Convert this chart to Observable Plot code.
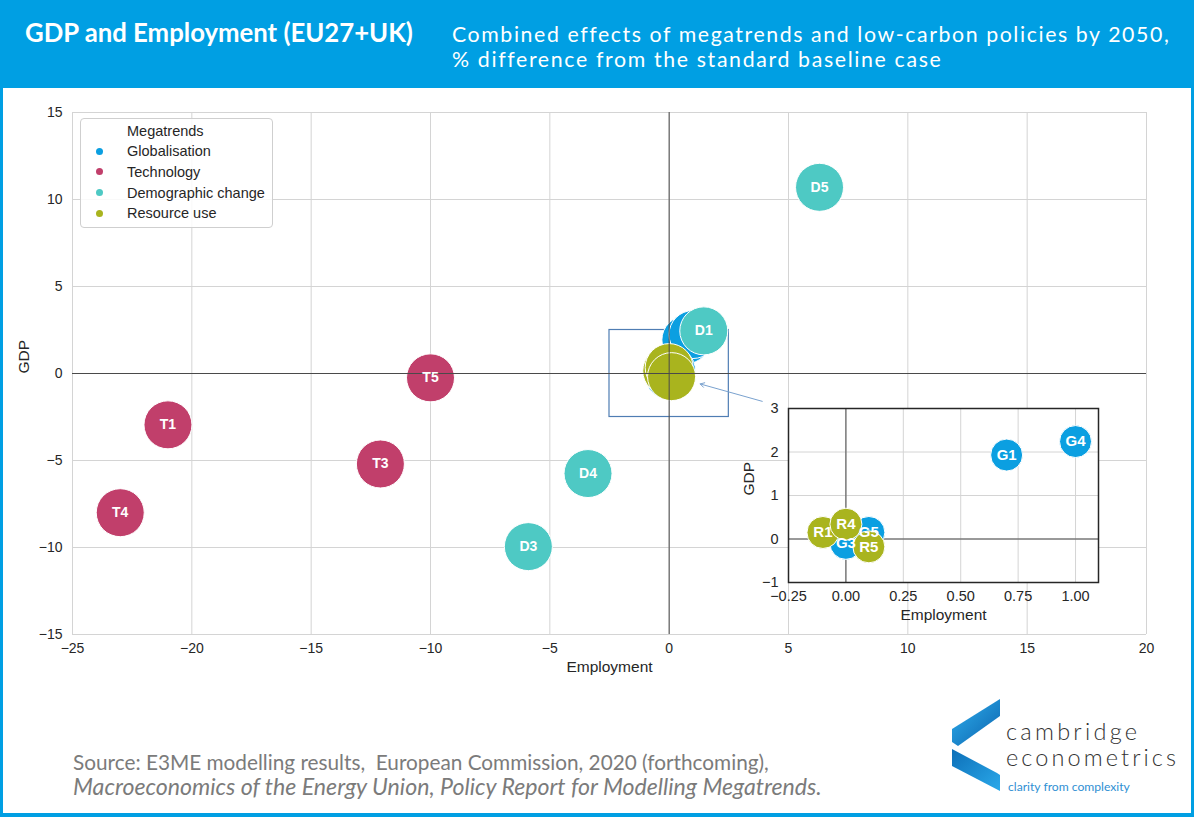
<!DOCTYPE html>
<html>
<head>
<meta charset="utf-8">
<script src="https://cdn.jsdelivr.net/npm/d3@7"></script>
<script src="https://cdn.jsdelivr.net/npm/@observablehq/plot@0.6"></script>
<style>
  html, body { margin: 0; padding: 0; background: white; }
  #root { position: relative; width: 1194px; height: 817px; overflow: hidden; background: white; }
  #deco { position: absolute; left: 0; top: 0; }
  #deco text { white-space: pre; }
  #main { position: absolute; left: 0; top: 90px; }
  #inset { position: absolute; left: 720px; top: 390px; }
  #legend { position: absolute; left: 80px; top: 118px; width: 191px; height: 108px;
    border: 1px solid #cfcfcf; border-radius: 4px; background: rgba(255,255,255,0.85);
    font-family: "Liberation Sans", Arial, sans-serif; font-size: 14.5px; color: #262626; }
  #legend .row { position: absolute; left: 0; height: 20px; line-height: 20px; white-space: nowrap; }
  #legend .dot { position: absolute; left: 15px; top: 6.5px; width: 7px; height: 7px; border-radius: 50%; }
  #legend .lab { position: absolute; left: 46px; }
  #border { position: absolute; left: 0; top: 0; width: 1194px; height: 817px; box-sizing: border-box;
    border-left: 3px solid #009fe3; border-right: 3px solid #009fe3; border-bottom: 4px solid #009fe3; pointer-events: none; }
</style>
</head>
<body>
<div id="root">
  <svg id="deco" width="1194" height="817"></svg>
  <div id="main"></div>
  <div id="inset"></div>
  <div id="legend"></div>
  <div id="border"></div>
</div>
<script>
// ---------- data ----------
const pointLabels = ["G1","G3","G4","G5","T1","T3","T4","T5","D1","D3","D4","D5","R1","R4","R5"];
const pointMegatrend = ["Globalisation","Globalisation","Globalisation","Globalisation",
  "Technology","Technology","Technology","Technology",
  "Demographic change","Demographic change","Demographic change","Demographic change",
  "Resource use","Resource use","Resource use"];
const employment = [0.7, 0.0, 1.0, 0.1, -21.0, -12.1, -23.0, -10.0, 1.45, -5.9, -3.4, 6.3, -0.1, 0.0, 0.1];
const gdp = [1.93, -0.1, 2.24, 0.15, -2.95, -5.2, -8.0, -0.25, 2.45, -9.95, -5.75, 10.7, 0.15, 0.34, -0.18];

const megatrends = ["Globalisation","Technology","Demographic change","Resource use"];
const megatrendColors = ["#0b9fe1","#c13f6b","#4ec9c4","#a9b41e"];

const mainXTicks = [-25,-20,-15,-10,-5,0,5,10,15,20];
const mainYTicks = [-15,-10,-5,0,5,10,15];
const insetXTicks = [-0.25,0,0.25,0.5,0.75,1.0];
const insetYTicks = [-1,0,1,2,3];

const zoomBox = [{x1:-2.5, x2:2.5, y1:-2.5, y2:2.5}];
const pointerArrow = [{x1:3.9, y1:-1.6, x2:1.3, y2:-0.6}];

const titleText = "GDP and Employment (EU27+UK)";
const subtitleLines = ["Combined effects of megatrends and low-carbon policies by 2050,",
                       "% difference from the standard baseline case"];
const sourceLines = ["Source: E3ME modelling results,  European Commission, 2020 (forthcoming),",
                     "Macroeconomics of the Energy Union, Policy Report for Modelling Megatrends."];
const logoLines = ["cambridge","econometrics","clarity from complexity"];

// ---------- table ----------
const points = pointLabels.map((l,i) => ({label:l, megatrend:pointMegatrend[i], employment:employment[i], gdp:gdp[i]}));
const colorScale = {domain: megatrends, range: megatrendColors};
const fmtInt = d3.format("d");
const fmt2 = d3.format(".2f");
const font = "'Liberation Sans', Arial, sans-serif";

// ---------- main chart ----------
const labelled = points.filter(d => d.megatrend === "Technology" || d.megatrend === "Demographic change");
const main = Plot.plot({
  width: 1194, height: 600,
  marginLeft: 72, marginRight: 48, marginTop: 22, marginBottom: 56,
  x: {domain: [-25, 20]},
  y: {domain: [-15, 15]},
  color: colorScale,
  style: {fontFamily: font, fontSize: "14px", color: "#262626", background: "transparent", overflow: "visible"},
  marks: [
    Plot.gridX(mainXTicks, {stroke: "#d4d4d4", strokeOpacity: 1}),
    Plot.gridY(mainYTicks, {stroke: "#d4d4d4", strokeOpacity: 1}),
    Plot.axisX(mainXTicks, {tickSize: 0, tickPadding: 9, tickFormat: fmtInt, label: null, fontSize: 14}),
    Plot.axisY(mainYTicks, {tickSize: 0, tickPadding: 10, tickFormat: fmtInt, label: null, fontSize: 14}),
    Plot.rect(zoomBox, {x1: "x1", x2: "x2", y1: "y1", y2: "y2", fill: "none", stroke: "#4f7db3", strokeWidth: 1.2}),
    Plot.dot(points, {x: "employment", y: "gdp", r: 24, fill: "megatrend", stroke: "white", strokeWidth: 1}),
    Plot.ruleX([0], {stroke: "#4a4a4a", strokeWidth: 1}),
    Plot.ruleY([0], {stroke: "#4a4a4a", strokeWidth: 1}),
    Plot.arrow(pointerArrow, {x1: "x1", y1: "y1", x2: "x2", y2: "y2", stroke: "#7aa2cf", strokeWidth: 1, headLength: 7, bend: 0}),
    Plot.text(labelled, {x: "employment", y: "gdp", text: "label", fill: "white", fontWeight: "bold", fontSize: 14}),
    Plot.text(["Employment"], {text: d => d, frameAnchor: "bottom", lineAnchor: "middle", dy: 33, fontSize: 15.5, fill: "#262626"}),
    Plot.text(["GDP"], {text: d => d, frameAnchor: "left", lineAnchor: "middle", rotate: -90, dx: -48, fontSize: 15.5, fill: "#262626"})
  ]
});
document.getElementById("main").appendChild(main);

// ---------- inset ----------
const insetPoints = points.filter(d => d.megatrend === "Globalisation" || d.megatrend === "Resource use");
const inset = Plot.plot({
  width: 400, height: 245,
  marginLeft: 68, marginRight: 22, marginTop: 18, marginBottom: 53,
  x: {domain: [-0.25, 1.1]},
  y: {domain: [-1, 3]},
  color: colorScale,
  style: {fontFamily: font, fontSize: "14.5px", color: "#262626", background: "transparent", overflow: "visible"},
  marks: [
    Plot.frame({fill: "white", stroke: "none"}),
    Plot.gridX(insetXTicks, {stroke: "#d4d4d4", strokeOpacity: 1}),
    Plot.gridY(insetYTicks, {stroke: "#d4d4d4", strokeOpacity: 1}),
    Plot.ruleX([0], {stroke: "#4a4a4a", strokeWidth: 1}),
    Plot.ruleY([0], {stroke: "#4a4a4a", strokeWidth: 1}),
    Plot.axisX(insetXTicks, {tickSize: 0, tickPadding: 8, tickFormat: fmt2, label: null, fontSize: 14.5}),
    Plot.axisY(insetYTicks, {tickSize: 0, tickPadding: 10, tickFormat: fmtInt, label: null, fontSize: 14.5}),
    Plot.dot(insetPoints, {x: "employment", y: "gdp", r: 16, fill: "megatrend", stroke: "white", strokeWidth: 1}),
    Plot.text(insetPoints, {x: "employment", y: "gdp", text: "label", fill: "white", fontWeight: "bold", fontSize: 15}),
    Plot.frame({stroke: "#262626", strokeWidth: 1.5}),
    Plot.text(["Employment"], {text: d => d, frameAnchor: "bottom", lineAnchor: "middle", dy: 33, fontSize: 15.5, fill: "#262626"}),
    Plot.text(["GDP"], {text: d => d, frameAnchor: "left", lineAnchor: "middle", rotate: -90, dx: -39, fontSize: 15.5, fill: "#262626"})
  ]
});
document.getElementById("inset").appendChild(inset);

// ---------- legend ----------
const legend = document.getElementById("legend");
const lt = document.createElement("div");
lt.className = "row"; lt.style.top = "2px"; lt.style.left = "46px"; lt.textContent = "Megatrends";
legend.appendChild(lt);
megatrends.forEach((m, i) => {
  const row = document.createElement("div");
  row.className = "row"; row.style.top = (22 + i * 20.8) + "px"; row.style.width = "100%";
  const dot = document.createElement("span"); dot.className = "dot"; dot.style.background = megatrendColors[i];
  const lab = document.createElement("span"); lab.className = "lab"; lab.textContent = m;
  row.appendChild(dot); row.appendChild(lab); legend.appendChild(row);
});

// ---------- decoration (header, footer, logo) ----------
const NS = "http://www.w3.org/2000/svg";
const deco = document.getElementById("deco");
function el(tag, attrs, parent) {
  const e = document.createElementNS(NS, tag);
  for (const k in attrs) e.setAttribute(k, attrs[k]);
  (parent || deco).appendChild(e);
  return e;
}
// mode "scale": scale font-size to width; mode "space": keep size, adjust letter-spacing
function txt(str, x, y, size, attrs, target, mode) {
  const t = el("text", Object.assign({x, y, "font-size": size}, attrs));
  t.textContent = str;
  if (target) {
    const w = t.getComputedTextLength();
    if (w > 0) {
      if (mode === "space") t.setAttribute("letter-spacing", ((target - w) / Math.max(1, str.length - 1)).toFixed(3));
      else t.setAttribute("font-size", (size * target / w).toFixed(2));
    }
  }
  return t;
}
el("rect", {x: 0, y: 0, width: 1194, height: 88, fill: "#009fe3"});
const hf = {"font-family": "Lato, 'Open Sans', sans-serif", fill: "white"};
txt(titleText, 25, 42, 20, Object.assign({"font-weight": "bold"}, hf), 388);
txt(subtitleLines[0], 452, 42, 21.3, hf, 716, "space");
txt(subtitleLines[1], 452, 67, 21.3, hf, 488, "space");
const ff = {"font-family": "Lato, 'Open Sans', sans-serif", fill: "#7b7b7b"};
txt(sourceLines[0], 73, 770, 18, ff, 696);
txt(sourceLines[1], 73, 795, 18, Object.assign({"font-style": "italic"}, ff), 749);

// logo
const defs = el("defs", {});
const g1 = el("linearGradient", {id: "lg1", x1: "0", y1: "0", x2: "1", y2: "1"}, defs);
el("stop", {offset: "0", "stop-color": "#2fb0ee"}, g1);
el("stop", {offset: "1", "stop-color": "#0b62ad"}, g1);
const g2 = el("linearGradient", {id: "lg2", x1: "0", y1: "0", x2: "1", y2: "1"}, defs);
el("stop", {offset: "0", "stop-color": "#0d6fb8"}, g2);
el("stop", {offset: "1", "stop-color": "#2aa9ea"}, g2);
el("path", {d: "M1000,699 L1000,716 L958,746 L952,742 L952,729 Z", fill: "url(#lg1)"});
el("path", {d: "M952,749 L997,773 L1000,775 L1000,791 L952,766 Z", fill: "url(#lg2)"});
const lf = {"font-family": "Lato, 'Open Sans', sans-serif", fill: "#333333", "font-weight": "300"};
txt(logoLines[0], 1006, 740, 23.5, lf, 131, "space");
txt(logoLines[1], 1006, 766, 23.5, lf, 170, "space");
txt(logoLines[2], 1008, 791, 12, {"font-family": "Lato, 'Open Sans', sans-serif", fill: "#2f8fd3"}, 122);
</script>
</body>
</html>
